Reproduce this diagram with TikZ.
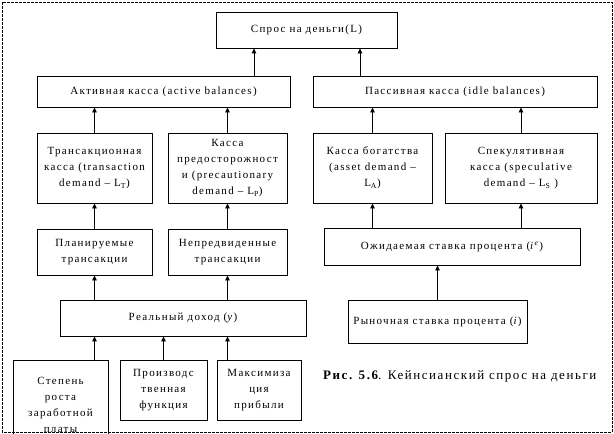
\documentclass[tikz,border=0pt]{standalone}
\usepackage{fontspec}
\setmainfont{Liberation Serif}
\newfontfamily\boxfont[LetterSpace=12]{Liberation Serif}
\newfontfamily\capfont[LetterSpace=12]{Liberation Serif}
\usetikzlibrary{arrows.meta}
\begin{document}
\begin{tikzpicture}[x=1pt,y=-1pt,
  box/.style={draw, line width=0.8pt, align=center, inner sep=0pt, font=\boxfont\fontsize{11}{16}\selectfont},
  arr/.style={-{Triangle[length=5pt,width=4.5pt]}, line width=0.8pt}]
\useasboundingbox (0,0) rectangle (614,434);
\clip (0,0) rectangle (614,434);
\draw[dash pattern=on 3pt off 1pt, line width=0.6pt] (2,2) rectangle (612,432);
% level 1
\node[box, minimum width=181, minimum height=36] (L) at (306.5,30) {Спрос на деньги(L)};
% level 2
\node[box, minimum width=253, minimum height=31] (act) at (163.5,91.5) {Активная касса (active balances)};
\node[box, minimum width=284, minimum height=31] (pas) at (455,91.5) {Пассивная касса (idle balances)};
% level 3
\node[box, minimum width=115, minimum height=70] (trans) at (94.5,168) {Трансакционная\\касса (transaction\\demand – L\textsubscript{T})};
\node[box, minimum width=119, minimum height=70] (prec) at (227.5,168) {Касса\\предосторожност\\и (precautionary\\demand – L\textsubscript{P})};
\node[box, minimum width=119, minimum height=70] (asset) at (372.5,168) {Касса богатства\\(asset demand –\\L\textsubscript{A})};
\node[box, minimum width=152, minimum height=70] (spec) at (521,168) {Спекулятивная\\касса (speculative\\demand – L\textsubscript{S} )};
% level 4
\node[box, minimum width=115, minimum height=46] (plan) at (94.5,252) {Планируемые\\трансакции};
\node[box, minimum width=119, minimum height=46] (unf) at (227.5,252) {Непредвиденные\\трансакции};
\node[box, minimum width=256, minimum height=37] (exp) at (452,246.5) {Ожидаемая ставка процента (\textit{i}\textsuperscript{\textit{e}})};
% level 5
\node[box, minimum width=246, minimum height=36] (real) at (183,318) {Реальный доход (\textit{y})};
\node[box, minimum width=179, minimum height=43] (mkt) at (437.5,321.5) {Рыночная ставка процента (\textit{i})};
% level 6
\node[box, minimum width=95, minimum height=90, anchor=north] (wage) at (60.5,360) {Степень\\роста\\заработной\\платы};
\node[box, minimum width=87, minimum height=60, anchor=north] (prod) at (163.5,360) {Производс\\твенная\\функция};
\node[box, minimum width=84, minimum height=60, anchor=north] (prof) at (259,360) {Максимиза\\ция\\прибыли};
% caption
\node[anchor=west, inner sep=0pt, font=\capfont\fontsize{13}{15}\selectfont] (cap) at (323,376) {\textbf{Рис. 5.6}. Кейнсианский спрос на деньги};
% arrows
\coordinate (ta) at (254,0);
\coordinate (tb) at (360,0);
\draw[arr] (act.north -| ta) -- (L.south -| ta);
\draw[arr] (pas.north -| tb) -- (L.south -| tb);
\draw[arr] (trans.north) -- (trans.north |- act.south);
\draw[arr] (prec.north) -- (prec.north |- act.south);
\draw[arr] (asset.north) -- (asset.north |- pas.south);
\draw[arr] (spec.north) -- (spec.north |- pas.south);
\draw[arr] (plan.north) -- (plan.north |- trans.south);
\draw[arr] (unf.north) -- (unf.north |- prec.south);
\draw[arr] (exp.north -| asset.south) -- (asset.south);
\draw[arr] (exp.north -| spec.south) -- (spec.south);
\draw[arr] (real.north -| plan.south) -- (plan.south);
\draw[arr] (real.north -| unf.south) -- (unf.south);
\draw[arr] (mkt.north) -- (mkt.north |- exp.south);
\draw[arr] (wage.north -| plan.south) -- (real.south -| plan.south);
\draw[arr] (prod.north) -- (prod.north |- real.south);
\draw[arr] (prof.north -| unf.south) -- (real.south -| unf.south);
\end{tikzpicture}
\end{document}
